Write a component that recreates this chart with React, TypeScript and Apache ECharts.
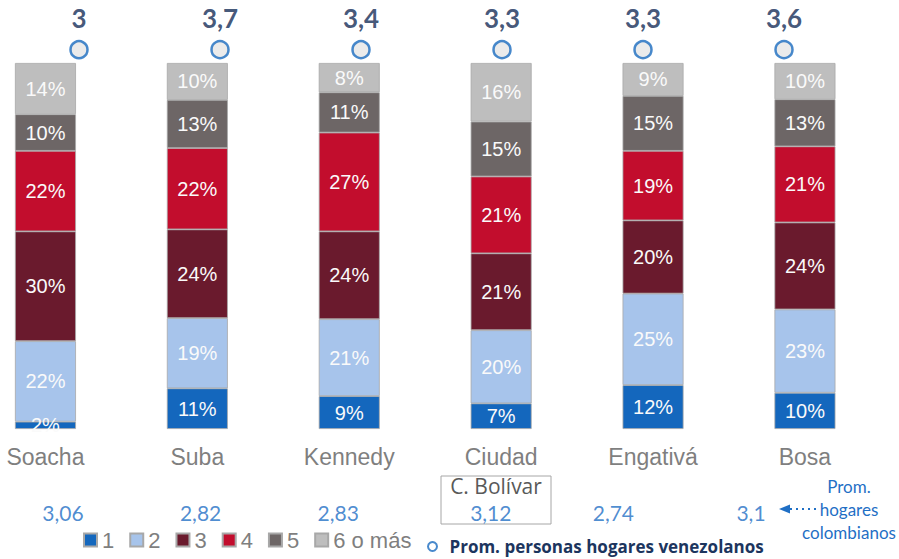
import React, { useEffect, useRef } from "react";
import * as echarts from "echarts";

const categories = ["Soacha", "Suba", "Kennedy", "Ciudad Bolívar", "Engativá", "Bosa"];
const sizeNames = ["1", "2", "3", "4", "5", "6 o más"];
const share1 = [2, 11, 9, 7, 12, 10];
const share2 = [22, 19, 21, 20, 25, 23];
const share3 = [30, 24, 24, 21, 20, 24];
const share4 = [22, 22, 27, 21, 19, 21];
const share5 = [10, 13, 11, 15, 15, 13];
const share6 = [14, 10, 8, 16, 9, 10];
const avgVenezolanos = [3, 3.7, 3.4, 3.3, 3.3, 3.6];
const avgColombianos = [3.06, 2.82, 2.83, 3.12, 2.74, 3.1];
const venezolanosName = "Prom. personas hogares venezolanos";

const sizeColors = ["#1467bd", "#a7c4eb", "#6a1a2d", "#c20d2d", "#6d6666", "#bebebe"];

const fmt = (v: number) => String(v).replace(".", ",");

export default function App() {
  const ref = useRef<HTMLDivElement>(null);
  useEffect(() => {
    if (!ref.current) return;
    const chart = echarts.init(ref.current, null, { renderer: "svg" });
    const shares = [share1, share2, share3, share4, share5, share6];
    const totals = categories.map((_, i) => shares.reduce((s, a) => s + a[i], 0));

    const barSeries = shares.map((arr, k) => ({
      name: sizeNames[k],
      type: "bar",
      stack: "total",
      xAxisIndex: 0,
      yAxisIndex: 0,
      barWidth: 61,
      data: arr.map((v, i) => (v / totals[i]) * 100),
      itemStyle: { color: sizeColors[k], borderColor: "#a8a8a8", borderWidth: 0.8 },
      label: {
        show: true,
        position: "inside",
        formatter: (p: any) => arr[p.dataIndex] + "%",
        color: "#fafafa",
        fontSize: 20,
        fontFamily: "Liberation Sans",
      },
    }));

    const option: any = {
      animation: false,
      backgroundColor: "#ffffff",
      grid: [
        { left: -30.5, width: 911.4, top: 63, height: 366, outerBoundsMode: "none", containLabel: false },
        { left: 8.5, width: 846, top: 49, height: 1, outerBoundsMode: "none" },
        { left: -5.8, width: 825.6, top: 512, height: 1, outerBoundsMode: "none" },
      ],
      xAxis: [
        {
          type: "category",
          gridIndex: 0,
          data: categories,
          axisLine: { show: false },
          axisTick: { show: false },
          axisLabel: {
            margin: 16,
            color: "#7f7f7f",
            fontSize: 23,
            fontFamily: "Liberation Sans",
            formatter: (v: string) => (v === "Ciudad Bolívar" ? "Ciudad" : v),
          },
        },
        { type: "category", gridIndex: 1, data: categories, show: false },
        { type: "category", gridIndex: 2, data: categories, show: false },
      ],
      yAxis: [
        { type: "value", gridIndex: 0, min: 0, max: 100, show: false },
        { type: "value", gridIndex: 1, min: 0, max: 10, show: false },
        { type: "value", gridIndex: 2, min: 0, max: 10, show: false },
      ],
      legend: [
        {
          left: 78,
          top: 524,
          itemWidth: 13,
          itemHeight: 13,
          itemGap: 15,
          icon: "rect",
          data: sizeNames,
          textStyle: { color: "#7f7f7f", fontSize: 22, fontFamily: "Liberation Sans" },
        },
        {
          left: 422,
          top: 533,
          itemWidth: 24,
          itemHeight: 9,
          data: [
            {
              name: venezolanosName,
              icon: "circle",
              itemStyle: { color: "#ffffff", borderColor: "#1a6bbf", borderWidth: 2 },
            },
          ],
          textStyle: { color: "#1c355e", fontSize: 17, fontWeight: "bold", fontFamily: "Open Sans" },
        },
      ],
      series: [
        ...barSeries,
        {
          name: venezolanosName,
          type: "scatter",
          xAxisIndex: 1,
          yAxisIndex: 1,
          symbol: "circle",
          symbolSize: 17,
          data: avgVenezolanos,
          itemStyle: { color: "#e6e6e6", borderColor: "#1a6bbf", borderWidth: 2.5 },
          label: {
            show: true,
            position: "top",
            distance: 9,
            formatter: (p: any) => fmt(avgVenezolanos[p.dataIndex]),
            color: "#142c57",
            fontSize: 26,
            fontWeight: "bold",
            fontFamily: "Lato",
          },
        },
        {
          name: "Prom. hogares colombianos",
          type: "scatter",
          xAxisIndex: 2,
          yAxisIndex: 2,
          symbol: "circle",
          symbolSize: 1,
          data: avgColombianos.map((v, i) =>
            categories[i] === "Ciudad Bolívar" ? { value: v, label: { offset: [15, 0] } } : v
          ),
          itemStyle: { color: "transparent" },
          label: {
            show: true,
            position: "inside",
            formatter: (p: any) => fmt(avgColombianos[p.dataIndex]),
            color: "#1f6fc5",
            fontSize: 21,
            fontFamily: "Lato",
          },
        },
      ],
      graphic: [
        {
          type: "text",
          x: 449,
          y: -1,
          style: {
            text: "(Número promedio de personas por hogar)",
            font: "14px Lato",
            fill: "#3a4a6a",
            textAlign: "center",
            textVerticalAlign: "bottom",
          },
        },
        {
          type: "rect",
          shape: { x: 441, y: 476, width: 110, height: 48 },
          style: { fill: "none", stroke: "#a6a6a6", lineWidth: 1 },
        },
        {
          type: "text",
          x: 496,
          y: 486,
          style: {
            text: "C. Bolívar",
            font: "21px 'Open Sans'",
            fill: "#595959",
            textAlign: "center",
            textVerticalAlign: "middle",
          },
        },
        {
          type: "text",
          x: 849,
          y: 509,
          style: {
            text: "Prom.\nhogares\ncolombianos",
            font: "17px Lato",
            lineHeight: 23,
            fill: "#1f6fc5",
            textAlign: "center",
            textVerticalAlign: "middle",
          },
        },
        {
          type: "line",
          shape: { x1: 790, y1: 509, x2: 816, y2: 509 },
          style: { stroke: "#1f6fc5", lineWidth: 2, lineDash: [2, 4] },
        },
        {
          type: "polygon",
          shape: { points: [[779, 509], [790, 504.5], [790, 513.5]] },
          style: { fill: "#1f6fc5" },
        },
      ],
    };
    chart.setOption(option);
    return () => chart.dispose();
  }, []);
  return (
    <div
      ref={ref}
      style={{ position: "fixed", left: 0, top: 0, width: 899, height: 559 }}
    />
  );
}
